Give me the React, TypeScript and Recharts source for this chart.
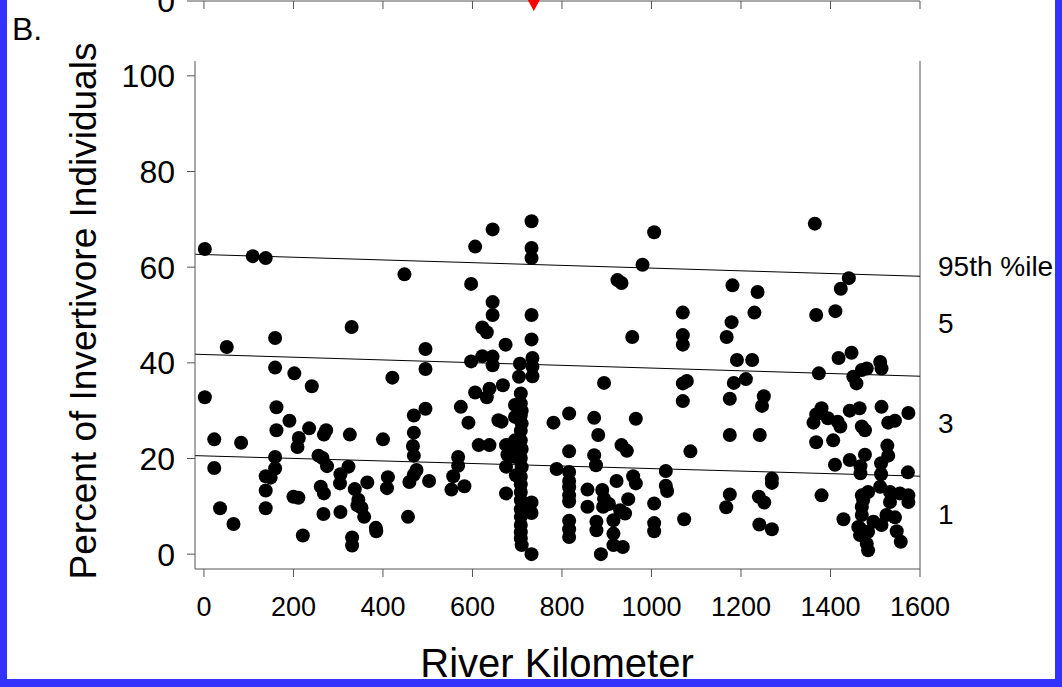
import React from "react";
import { ScatterChart, Scatter, XAxis, YAxis, ReferenceLine } from "recharts";

const FONT = "'Liberation Sans', Arial, sans-serif";
const AXIS = "#555";
const BLUE = "#3333ff";

const kmTicks = [0, 200, 400, 600, 800, 1000, 1200, 1400, 1600];
const pctTicks = [0, 20, 40, 60, 80, 100];

// [river km, % invertivore individuals]
const upperReach = [
  [2, 63.8], [109, 62.3], [138, 61.9], [448, 58.5], [330, 47.5], [159, 45.2], [51, 43.3],
  [495, 42.9], [159, 39.0], [495, 38.7], [202, 37.8], [421, 36.9], [241, 35.1], [2, 32.8],
  [162, 30.7], [495, 30.4], [191, 27.9], [469, 29.0], [23, 24.0], [83, 23.3], [162, 25.9],
  [212, 24.3], [209, 22.4], [235, 26.3], [273, 25.9], [268, 25.0], [326, 25.0], [400, 24.0],
  [469, 25.4], [467, 22.6], [469, 20.6], [159, 20.3], [256, 20.6], [265, 20.1], [23, 18.0],
  [159, 17.9], [275, 18.4], [138, 16.3], [149, 16.0], [305, 16.7], [323, 18.3], [304, 14.8],
  [365, 15.0], [411, 16.1], [409, 13.8], [475, 17.6], [469, 16.6], [459, 15.1], [503, 15.3],
  [138, 13.3], [261, 14.1], [268, 12.7], [337, 13.6], [200, 12.0], [211, 11.8], [345, 11.4],
  [343, 10.2], [352, 9.7], [36, 9.6], [138, 9.6], [267, 8.4], [305, 8.8], [358, 7.8],
  [456, 7.8], [66, 6.3], [384, 5.5], [385, 4.8], [221, 3.9], [331, 3.5], [331, 1.8],
];

const middleReach = [
  [732, 69.6], [645, 67.9], [1006, 67.3], [606, 64.3], [732, 64.0], [732, 61.9], [980, 60.5],
  [597, 56.5], [924, 57.3], [933, 56.7], [645, 52.7], [645, 50.0], [732, 50.0], [622, 47.4],
  [632, 46.4], [957, 45.4], [732, 44.9], [674, 43.8], [597, 40.3], [622, 41.4], [645, 41.3],
  [645, 39.5], [734, 41.0], [734, 39.2], [734, 37.2], [706, 39.8], [704, 37.1], [894, 35.8],
  [606, 33.8], [638, 34.6], [632, 32.8], [668, 35.3], [574, 30.8], [591, 27.5], [658, 28.0],
  [665, 27.7], [781, 27.5], [816, 29.4], [872, 28.5], [965, 28.3], [881, 24.9], [816, 21.5],
  [872, 20.7], [876, 18.6], [933, 22.8], [945, 21.6], [614, 22.8], [638, 22.8], [675, 22.8],
  [678, 20.8], [568, 20.3], [568, 18.5], [557, 16.3], [553, 13.5], [582, 14.2], [675, 18.3],
  [675, 12.7], [788, 17.8], [816, 17.2], [816, 15.3], [816, 14.0], [816, 12.3], [816, 11.0],
  [816, 7.0], [816, 5.2], [816, 3.6], [857, 13.5], [857, 9.9], [877, 6.8], [877, 5.0],
  [887, 0.0], [890, 13.4], [894, 11.6], [892, 9.9], [905, 10.5], [922, 15.3], [959, 16.3],
  [965, 14.8], [948, 11.5], [930, 9.2], [941, 8.5], [915, 7.1], [915, 4.3], [915, 1.9],
  [936, 1.5], [1032, 17.4], [1032, 14.3], [1035, 13.2], [1006, 10.6], [1006, 6.5], [1006, 4.8],
  [695, 31.2], [695, 28.7], [695, 23.8], [695, 21.9], [695, 20.3], [697, 16.5], [708, 33.6],
  [708, 31.5], [710, 30.0], [708, 29.0], [710, 27.3], [708, 25.8], [708, 23.8], [710, 22.0],
  [708, 20.1], [710, 18.2], [708, 16.2], [708, 14.6], [708, 13.0], [708, 11.3], [708, 9.4],
  [708, 7.8], [708, 6.1], [708, 4.6], [708, 3.3], [710, 1.9], [732, 10.8], [732, 8.6], [732, 0.0],
  [1070, 50.5], [1070, 45.8], [1070, 43.8], [1070, 35.7], [1079, 36.2], [1070, 32.0],
  [1087, 21.5], [1073, 7.3],
];

const lowerReach = [
  [1365, 69.1], [1441, 57.7], [1423, 55.5], [1181, 56.2], [1237, 54.8], [1230, 50.5],
  [1368, 50.0], [1411, 50.8], [1179, 48.5], [1168, 45.4], [1191, 40.6], [1225, 40.6],
  [1418, 41.0], [1447, 42.1], [1374, 37.8], [1451, 37.1], [1458, 35.7], [1470, 38.5],
  [1481, 38.8], [1511, 40.2], [1514, 38.8], [1184, 35.8], [1211, 36.6], [1175, 32.5],
  [1251, 33.0], [1247, 31.0], [1175, 24.9], [1242, 24.9], [1175, 12.5], [1167, 9.8],
  [1240, 12.0], [1252, 10.8], [1269, 15.8], [1269, 14.9], [1241, 6.2], [1269, 5.2],
  [1380, 12.3], [1429, 7.3], [1368, 29.2], [1380, 30.5], [1362, 27.5], [1394, 28.4],
  [1368, 23.4], [1406, 23.8], [1416, 27.7], [1422, 26.7], [1443, 30.0], [1465, 30.5],
  [1514, 30.8], [1470, 26.7], [1477, 25.9], [1529, 27.5], [1544, 27.9], [1574, 29.5],
  [1410, 18.7], [1443, 19.7], [1467, 18.4], [1467, 16.9], [1477, 20.8], [1527, 22.7],
  [1529, 20.6], [1513, 19.0], [1513, 16.7], [1573, 17.1], [1470, 12.3], [1484, 13.0],
  [1511, 14.1], [1533, 13.0], [1555, 12.7], [1574, 12.3], [1470, 9.9], [1473, 11.3],
  [1533, 10.9], [1574, 10.9], [1470, 8.2], [1496, 6.8], [1514, 6.1], [1525, 8.2],
  [1544, 7.7], [1466, 5.4], [1462, 5.7], [1484, 4.7], [1466, 4.0], [1548, 4.8],
  [1557, 2.6], [1481, 2.2], [1484, 0.8],
];

// percentile lines, value at each end of the x range
const lineKm = [-20, 1600];
const line95th = [62.7, 58.1];
const line5 = [41.8, 37.2];
const line3 = [20.6, 16.3];

// marker on the panel above (cut off)
const markerKm = [737];

const points = [...upperReach, ...middleReach, ...lowerReach].map(([x, y]) => ({ x, y }));

const seg = (vals: number[]) => [
  { x: lineKm[0], y: vals[0] },
  { x: lineKm[1], y: vals[1] },
];

const Dot = (p: any) => <circle cx={p.cx} cy={p.cy} r={7} fill="#000" />;
const Tri = (p: any) => (
  <polygon
    points={`${p.cx - 6},${p.cy - 1} ${p.cx + 6},${p.cy - 1} ${p.cx},${p.cy + 10}`}
    fill="#ff0000"
  />
);

const xTick = { fontSize: 27, fill: "#000", fontFamily: FONT };
const yTick = { fontSize: 32, fill: "#000", fontFamily: FONT };

export default function App() {
  return (
    <div
      style={{
        position: "absolute",
        left: 0,
        top: 0,
        width: 1062,
        height: 687,
        background: "#fff",
        overflow: "hidden",
        fontFamily: FONT,
      }}
    >
      {/* bottom of panel A, cut off at the top */}
      <div style={{ position: "absolute", left: 0, top: -20 }}>
        <ScatterChart width={1062} height={44} margin={{ top: 20, right: 142, bottom: 0, left: 0 }}>
          <XAxis
            type="number"
            dataKey="x"
            domain={[-20, 1600]}
            ticks={kmTicks}
            tickFormatter={() => ""}
            height={23}
            tickSize={8}
            axisLine={{ stroke: AXIS }}
            tickLine={{ stroke: AXIS }}
          />
          <YAxis
            type="number"
            dataKey="y"
            domain={[0, 100]}
            ticks={[0]}
            width={195}
            tickSize={8}
            tickMargin={12}
            tick={yTick}
            axisLine={false}
            tickLine={{ stroke: AXIS }}
          />
          <Scatter
            data={markerKm.map((x) => ({ x, y: 0 }))}
            shape={Tri}
            isAnimationActive={false}
          />
        </ScatterChart>
      </div>

      {/* panel B */}
      <div style={{ position: "absolute", left: 0, top: 0 }}>
        <ScatterChart width={1062} height={687} margin={{ top: 61, right: 142, bottom: 0, left: 0 }}>
          <XAxis
            type="number"
            dataKey="x"
            domain={[-20, 1600]}
            ticks={kmTicks}
            height={118}
            tickSize={8}
            tickMargin={20}
            tick={xTick}
            axisLine={{ stroke: AXIS }}
            tickLine={{ stroke: AXIS }}
            allowDataOverflow
          />
          <YAxis
            type="number"
            dataKey="y"
            domain={[-3.1, 103.1]}
            ticks={pctTicks}
            width={195}
            tickSize={8}
            tickMargin={12}
            tick={yTick}
            axisLine={{ stroke: AXIS }}
            tickLine={{ stroke: AXIS }}
            allowDataOverflow
          />
          <ReferenceLine x={1600} stroke={AXIS} />
          <ReferenceLine segment={seg(line95th)} stroke="#000" />
          <ReferenceLine segment={seg(line5)} stroke="#000" />
          <ReferenceLine segment={seg(line3)} stroke="#000" />
          <Scatter data={points} shape={Dot} isAnimationActive={false} />
        </ScatterChart>
      </div>

      {/* titles and zone labels */}
      <svg
        width={1062}
        height={687}
        style={{ position: "absolute", left: 0, top: 0, pointerEvents: "none" }}
        fontFamily={FONT}
      >
        <text x={12} y={40} fontSize={32}>B.</text>
        <text
          x={0}
          y={0}
          fontSize={37}
          textAnchor="middle"
          transform="translate(96 311) rotate(-90)"
        >
          Percent of Invertivore Individuals
        </text>
        <text x={557} y={677} fontSize={40} textAnchor="middle">River Kilometer</text>
        <text x={938} y={276} fontSize={28}>95th %ile</text>
        <text x={938} y={333} fontSize={28}>5</text>
        <text x={938} y={433} fontSize={28}>3</text>
        <text x={938} y={524} fontSize={28}>1</text>
      </svg>

      {/* blue frame */}
      <div style={{ position: "absolute", left: 0, top: 0, width: 7, height: 687, background: BLUE }} />
      <div style={{ position: "absolute", left: 1055, top: 0, width: 7, height: 687, background: BLUE }} />
      <div style={{ position: "absolute", left: 0, top: 679, width: 1062, height: 8, background: BLUE }} />
    </div>
  );
}
